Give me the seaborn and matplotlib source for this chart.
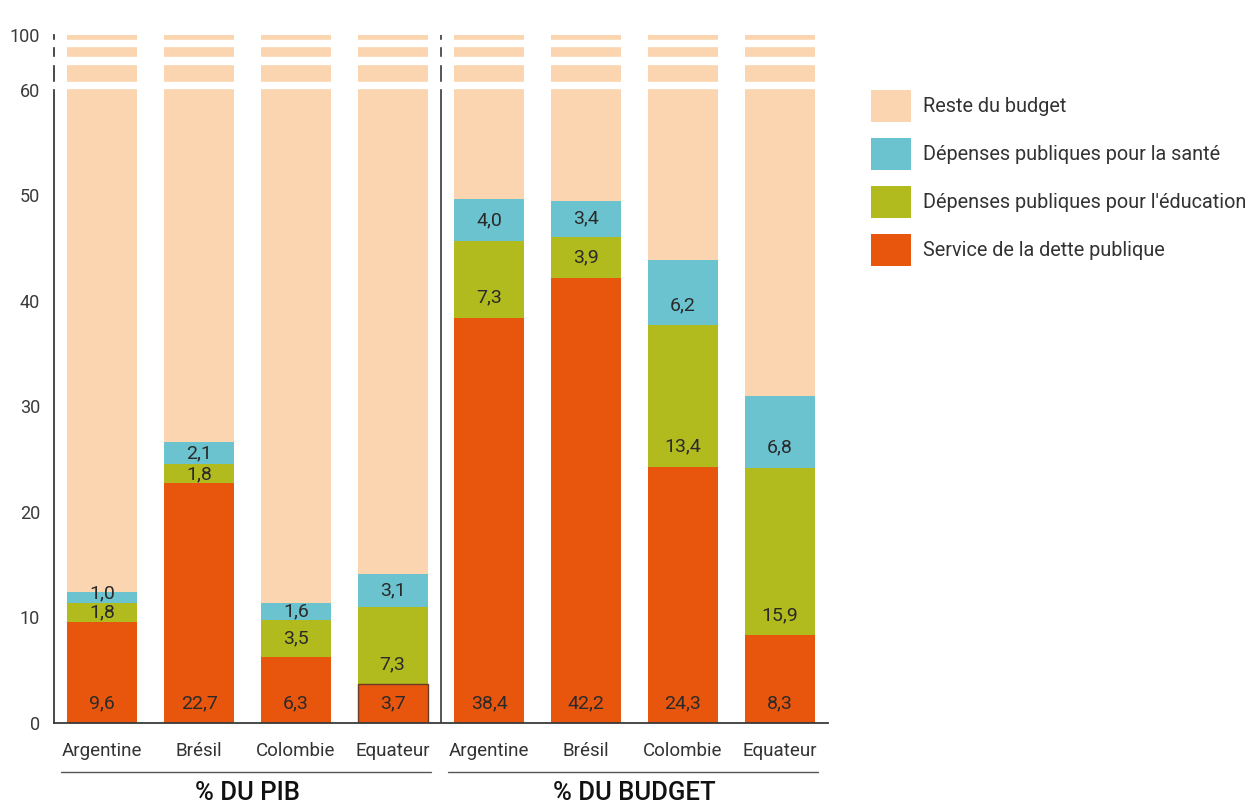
import numpy as np
import pandas as pd
import matplotlib
matplotlib.use("Agg")
import matplotlib.pyplot as plt
import matplotlib.transforms as mtransforms
from matplotlib.patches import Patch
import seaborn as sns

# ---------------- data ----------------
countries = ["Argentine", "Brésil", "Colombie", "Equateur"]
groups = ["% DU PIB", "% DU BUDGET"]
dette_pib = [9.6, 22.7, 6.3, 3.7]
education_pib = [1.8, 1.8, 3.5, 7.3]
sante_pib = [1.0, 2.1, 1.6, 3.1]
dette_budget = [38.4, 42.2, 24.3, 8.3]
education_budget = [7.3, 3.9, 13.4, 15.9]
sante_budget = [4.0, 3.4, 6.2, 6.8]
total = 100
legend_labels = ["Reste du budget", "Dépenses publiques pour la santé",
                 "Dépenses publiques pour l'éducation", "Service de la dette publique"]
y_ticks = [0, 10, 20, 30, 40, 50, 60, 100]

colors = {"reste": "#FBD5AF", "sante": "#6CC3D0", "education": "#B2BB1E", "dette": "#E8560E"}

# ---------------- frame ----------------
keys = [f"{g}|{c}" for g in groups for c in countries]
dette = np.array(dette_pib + dette_budget)
edu = np.array(education_pib + education_budget)
san = np.array(sante_pib + sante_budget)
df = pd.DataFrame({
    "key": keys,
    "dette": dette,
    "edu_cum": dette + edu,
    "san_cum": dette + edu + san,
    "reste_cum": np.full(len(keys), float(total)),
})

sns.set_theme(style="white")
plt.rcParams["font.family"] = ["Roboto", "DejaVu Sans"]

fig = plt.figure(figsize=(12.54, 8.05), dpi=100)
ax = fig.add_axes([54 / 1254, 1 - 723 / 805, (828 - 54) / 1254, (723 - 35) / 805])

W = 0.725
for col, c in [("reste_cum", "reste"), ("san_cum", "sante"), ("edu_cum", "education"), ("dette", "dette")]:
    sns.barplot(data=df, x="key", y=col, order=keys, color=colors[c], width=W,
                saturation=1, ax=ax, zorder=1, linewidth=0, edgecolor="none")

# outline on the small Equateur (PIB) debt segment
last = ax.patches[-len(keys):]
last[3].set_edgecolor("#6b3a22")
last[3].set_linewidth(1.0)

# broken y scale: 60-100 compressed
K = 0.13
def fwd(y):
    y = np.asarray(y, dtype=float)
    return np.where(y <= 60, y, 60 + (y - 60) * K)
def inv(y):
    y = np.asarray(y, dtype=float)
    return np.where(y <= 60, y, 60 + (y - 60) / K)
ax.set_yscale("function", functions=(fwd, inv))
ax.set_ylim(0, 100)
ax.set_xlim(-0.5, len(keys) - 0.5)

# value labels
txtc = "#2a2a2a"
for i in range(len(keys)):
    bottoms = [0, dette[i], dette[i] + edu[i]]
    heights = [dette[i], edu[i], san[i]]
    for b, h in zip(bottoms, heights):
        if h < 1.2:
            y = b + h * 0.9
        else:
            y = b + min(h / 2, 1.9)
        ax.text(i, y, f"{h:.1f}".replace(".", ","), ha="center", va="center",
                fontsize=14, color=txtc, zorder=6)

# spines / divider
for s in ["top", "right"]:
    ax.spines[s].set_visible(False)
for s in ["left", "bottom"]:
    ax.spines[s].set_color("#3a3a3a")
    ax.spines[s].set_linewidth(1.3)
ax.axvline(3.5, color="#3a3a3a", lw=1.2, zorder=2)

# white gaps of the broken axis
for y0, y1 in [(61.5, 65.8), (78.9, 84.1), (92.1, 96.5)]:
    ax.axhspan(y0, y1, xmin=-0.01, xmax=1.0, color="white", zorder=4, clip_on=False)

# ticks
ax.set_yticks(y_ticks)
ax.set_yticklabels([str(v) for v in y_ticks])
ax.tick_params(axis="y", length=0, pad=10, labelsize=13, labelcolor="#3a3a3a")
ax.set_xticks(range(len(keys)))
ax.set_xticklabels(countries * 2)
ax.tick_params(axis="x", which="major", length=0, pad=14, labelsize=13.5, labelcolor="#333333")
ax.set_xticks([0.5, 1.5, 2.5, 4.5, 5.5, 6.5, 7.5], minor=True)
ax.tick_params(axis="x", which="minor", direction="in", length=11, width=1.3, color="#3a3a3a")
ax.set_xlabel("")
ax.set_ylabel("")

# group underlines and titles
trans = mtransforms.blended_transform_factory(ax.transData, ax.transAxes)
for gi, g in enumerate(groups):
    x0 = gi * 4 - 0.43
    x1 = gi * 4 + 3.40
    ax.plot([x0, x1], [-0.071, -0.071], color="#555555", lw=1.0, transform=trans, clip_on=False)
    ax.text(gi * 4 + 1.5, -0.102, g, transform=trans, ha="center", va="center",
            fontsize=18.5, color="#111111", fontweight="medium")

# legend
handles = [Patch(facecolor=colors[k], edgecolor="none") for k in ["reste", "sante", "education", "dette"]]
fig.legend(handles, legend_labels, loc="upper left", bbox_to_anchor=(861 / 1254, 1 - 80 / 805),
           frameon=False, fontsize=14.3, handlelength=2.0, handleheight=2.1,
           handletextpad=0.6, labelspacing=0.81, borderpad=0, labelcolor="#333333")

fig.savefig("out.png", dpi=100)
